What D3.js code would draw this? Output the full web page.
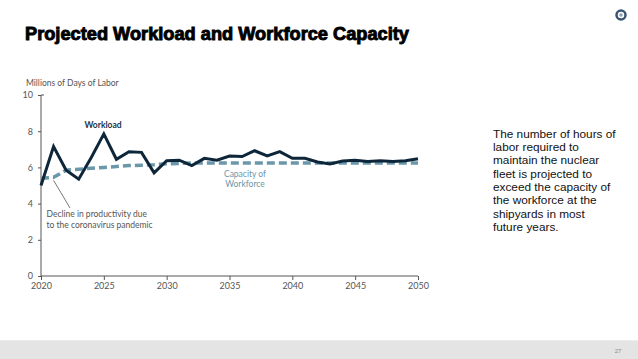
<!DOCTYPE html>
<html><head><meta charset="utf-8">
<script src="https://cdn.jsdelivr.net/npm/d3@7"></script>
<style>html,body{margin:0;padding:0;background:#fff;}svg{display:block;}</style>
</head><body>
<svg id="chart" width="638" height="359"></svg>
<script>
const years = d3.range(2020, 2051);
const workload = [5.0, 7.15, 5.85, 5.35, 6.55, 7.85, 6.45, 6.87, 6.83, 5.7,
  6.37, 6.4, 6.1, 6.5, 6.4, 6.63, 6.6, 6.92, 6.63, 6.87,
  6.5, 6.5, 6.3, 6.19, 6.35, 6.39, 6.33, 6.37, 6.32, 6.37, 6.48];
const capacity = [5.4, 5.45, 5.85, 5.9, 5.95, 6.0, 6.05, 6.1, 6.12, 6.15,
  6.2, 6.22, 6.24, 6.25, 6.25, 6.25, 6.25, 6.25, 6.25, 6.25,
  6.25, 6.25, 6.25, 6.25, 6.25, 6.25, 6.25, 6.25, 6.25, 6.25, 6.25];
const xTicks = [2020, 2025, 2030, 2035, 2040, 2045, 2050];
const yTicks = [0, 2, 4, 6, 8, 10];
const sideText = ["The number of hours of", "labor required to", "maintain the nuclear",
  "fleet is projected to", "exceed the capacity of", "the workforce at the",
  "shipyards in most", "future years."];

const svg = d3.select("#chart");
const x = d3.scaleLinear().domain([2020, 2050]).range([41, 418]);
const y = d3.scaleLinear().domain([0, 10]).range([276, 95]);

// footer
svg.append("rect").attr("x", 0).attr("y", 341).attr("width", 638).attr("height", 18).attr("fill", "#e4e4e4");
svg.append("rect").attr("x", 0).attr("y", 340).attr("width", 638).attr("height", 1).attr("fill", "#ececec");
svg.append("text").attr("x", 618).attr("y", 353).attr("text-anchor", "middle")
  .attr("font-family", "Liberation Sans, Arial, sans-serif").attr("font-size", 6).attr("fill", "#888").text("27");

// logo
svg.append("circle").attr("cx", 621).attr("cy", 15).attr("r", 4.5).attr("fill", "none").attr("stroke", "#3a5570").attr("stroke-width", 2.5);
svg.append("circle").attr("cx", 621).attr("cy", 15).attr("r", 1.8).attr("fill", "#8aa3ba");

// title
svg.append("text").attr("x", 25).attr("y", 40)
  .attr("font-family", "Liberation Sans, Arial, sans-serif").attr("font-weight", "bold")
  .attr("font-size", 17.5).attr("fill", "#000").attr("stroke", "#000").attr("stroke-width", 0.9)
  .attr("textLength", 384).attr("lengthAdjust", "spacingAndGlyphs")
  .text("Projected Workload and Workforce Capacity");

const font = "Lato, 'Open Sans', sans-serif";

// axis title
svg.append("text").attr("x", 26).attr("y", 86).attr("font-family", font).attr("font-size", 8.5)
  .attr("fill", "#555").text("Millions of Days of Labor");

// y axis
const yAxis = svg.append("g").attr("transform", "translate(41,0)")
  .call(d3.axisLeft(y).tickValues(yTicks).tickSize(3).tickPadding(5));
yAxis.select(".domain").attr("stroke", "#555").attr("d", "M3,95H0V276");
yAxis.selectAll(".tick line").attr("stroke", "#555");
yAxis.selectAll("text").attr("font-family", font).attr("font-size", 9).attr("fill", "#555");

// x axis
const xAxis = svg.append("g").attr("transform", "translate(0,276)")
  .call(d3.axisBottom(x).tickValues(xTicks).tickFormat(d3.format("d")).tickSize(4).tickPadding(3));
xAxis.select(".domain").attr("stroke", "#555").attr("d", "M41,0H418");
xAxis.selectAll(".tick line").attr("stroke", "#555");
xAxis.selectAll("text").attr("font-family", font).attr("font-size", 9).attr("fill", "#555");

// lines
const line = d3.line().x((d, i) => x(years[i])).y(d => y(d));
svg.append("path").datum(capacity).attr("d", line).attr("fill", "none")
  .attr("stroke", "#6b97ab").attr("stroke-width", 3.5).attr("stroke-dasharray", "8,4");
svg.append("path").datum(workload).attr("d", line).attr("fill", "none")
  .attr("stroke", "#0e2639").attr("stroke-width", 3).attr("stroke-linejoin", "miter");

// annotations
svg.append("text").attr("x", 103).attr("y", 128).attr("text-anchor", "middle").attr("font-family", font)
  .attr("font-weight", "bold").attr("font-size", 8.5).attr("fill", "#1d3446").text("Workload");
const cap = svg.append("text").attr("text-anchor", "middle").attr("font-family", font)
  .attr("font-size", 8.5).attr("fill", "#6b97ab");
cap.append("tspan").attr("x", 245).attr("y", 177).text("Capacity of");
cap.append("tspan").attr("x", 245).attr("y", 186.5).text("Workforce");

svg.append("line").attr("x1", x(2021)).attr("y1", y(5.45) + 3).attr("x2", 70).attr("y2", 208)
  .attr("stroke", "#555").attr("stroke-width", 0.8);
const dec = svg.append("text").attr("font-family", font).attr("font-size", 8.5).attr("fill", "#555");
dec.append("tspan").attr("x", 46.5).attr("y", 217).text("Decline in productivity due");
dec.append("tspan").attr("x", 46.5).attr("y", 228).text("to the coronavirus pandemic");

// side text
svg.append("g").selectAll("text").data(sideText).join("text")
  .attr("x", 493).attr("y", (d, i) => 137.5 + i * 13.35)
  .attr("font-family", "Liberation Sans, Arial, sans-serif").attr("font-size", 11.8).attr("fill", "#111")
  .text(d => d);
</script>
</body></html>
